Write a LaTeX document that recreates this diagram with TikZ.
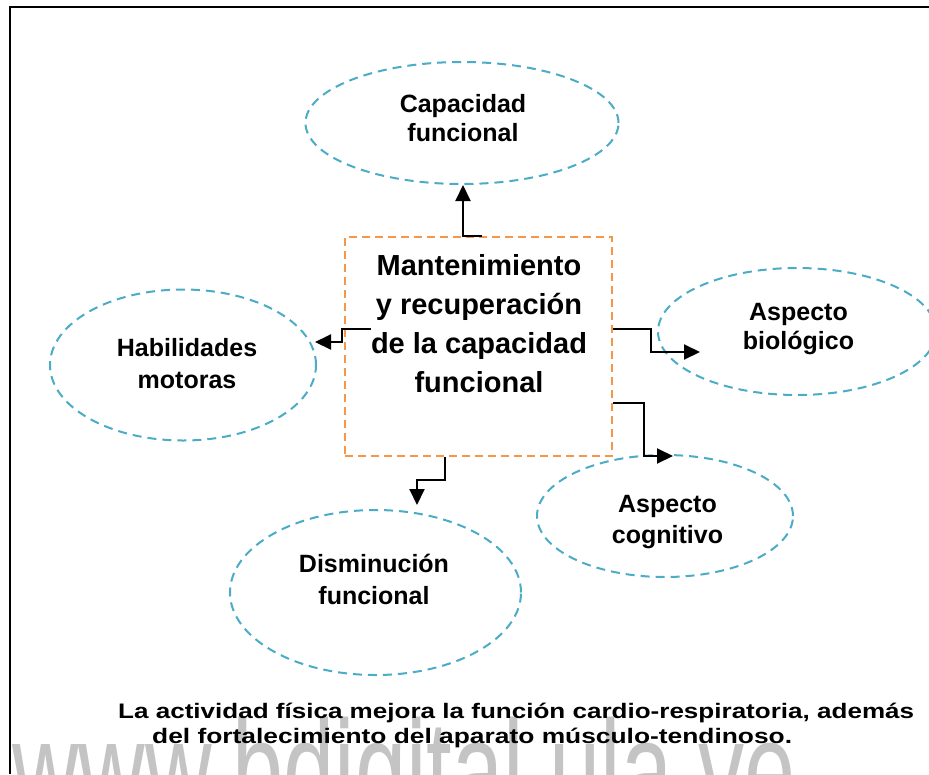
\documentclass[tikz,border=0pt]{standalone}
\usepackage{graphicx}
\usepackage{fontspec}
\setmainfont{Liberation Sans}
\usetikzlibrary{shapes.geometric,arrows.meta}
\definecolor{ellblue}{HTML}{4BACC6}
\definecolor{boxorange}{HTML}{F79646}
\definecolor{wmgray}{HTML}{C4C4C4}
\begin{document}
\begin{tikzpicture}[x=1pt,y=-1pt,
  ell/.style={draw=ellblue, line width=2pt, dash pattern=on 9pt off 6pt, ellipse, inner sep=0pt},
  cbox/.style={draw=boxorange, line width=2.2pt, dash pattern=on 8pt off 5pt, rectangle, inner sep=0pt},
  lbl/.style={align=center, anchor=base, inner sep=0pt},
  conn/.style={line width=2pt, -{Triangle[length=16pt,width=15pt]}},
  frame/.style={line width=2pt, black},
  captxt/.style={anchor=base west, inner sep=0pt, font={\bfseries\fontsize{21}{25}\selectfont}}]
\useasboundingbox (0,0) rectangle (929,774);
\clip (0,0) rectangle (929,774);
\fill[white] (0,0) rectangle (929,774);

% watermark
\node[anchor=base west, inner sep=0pt, text=wmgray, font={\fontsize{140}{140}\selectfont}] (wm) at (12,818) {\scalebox{0.658}[1]{www.bdigital.ula.ve}};

% frame
\coordinate (fTL) at (9.5,7);
\coordinate (fTR) at (929,7);
\coordinate (fBL) at (9.5,774);
\draw[frame] (fTR) -- (fTL) -- (fBL);

% ellipses
\node[ell, minimum width=313pt, minimum height=122pt] (cap) at (462,123) {};
\node[ell, minimum width=266pt, minimum height=151pt] (hab) at (183,365) {};
\node[ell, minimum width=278pt, minimum height=127pt] (bio) at (797,331.5) {};
\node[ell, minimum width=256pt, minimum height=122pt] (cog) at (665,516) {};
\node[ell, minimum width=291pt, minimum height=165pt] (dis) at (375.5,592.5) {};

% central box
\node[cbox, minimum width=267pt, minimum height=219pt] (box) at (478.5,346.5) {};

% labels (anchor base = baseline of the last line)
\node[lbl, font={\bfseries\fontsize{29}{39.3}\selectfont}] (boxT) at (479,392.9) {Mantenimiento\\y recuperación\\de la capacidad\\funcional};
\node[lbl, font={\bfseries\fontsize{25}{28.7}\selectfont}] (capT) at (463,141) {Capacidad\\funcional};
\node[lbl, font={\bfseries\fontsize{25}{31.6}\selectfont}] (habT) at (187,388.3) {Habilidades\\motoras};
\node[lbl, font={\bfseries\fontsize{25}{29}\selectfont}] (bioT) at (798.5,349) {Aspecto\\biológico};
\node[lbl, font={\bfseries\fontsize{25}{31}\selectfont}] (cogT) at (667.5,543) {Aspecto\\cognitivo};
\node[lbl, font={\bfseries\fontsize{25}{32}\selectfont}] (disT) at (374,604) {Disminución\\funcional};

% connectors
\coordinate (tUp) at (463,185);
\draw[conn] ([xshift=3.5pt]box.north) -| (tUp);
\coordinate (tHab) at (315,342);
\draw[conn] ([xshift=27pt,yshift=17.5pt]box.west) -- ++(-29,0) |- (tHab);
\coordinate (tBio) at (700,352);
\draw[conn] ([yshift=17.5pt]box.east) -- ++(38,0) |- (tBio);
\coordinate (tCog) at (673,456);
\draw[conn] ([yshift=-56.5pt]box.east) -- ++(31,0) |- (tCog);
\coordinate (tDis) at (417,505);
\draw[conn] ([xshift=-33.5pt]box.south) -- ++(0,23) -| (tDis);

% caption
\node[captxt] (cap1) at (118,718.3) {\scalebox{1.24}[1]{La actividad física mejora la función cardio-respiratoria, además}};
\node[captxt] (cap2) at (152,743.3) {\scalebox{1.255}[1]{del fortalecimiento del aparato músculo-tendinoso.}};
\end{tikzpicture}
\end{document}
